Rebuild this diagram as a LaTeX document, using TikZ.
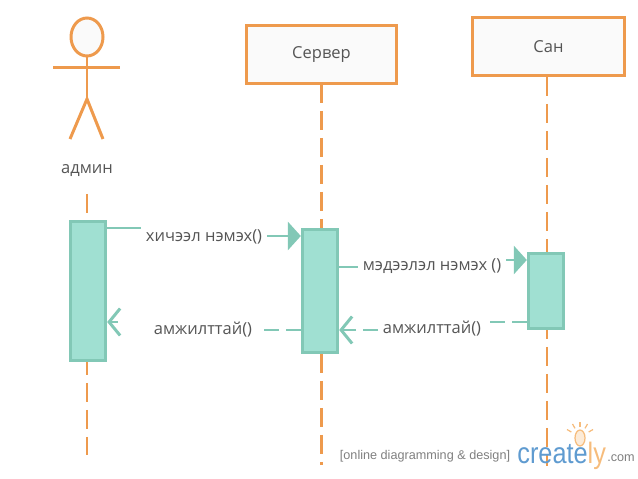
\documentclass[tikz,border=0pt]{standalone}
\usepackage{fontspec}
\setmainfont{Open Sans}
\newfontfamily\markfont{Liberation Sans}
\usetikzlibrary{arrows.meta}

\definecolor{lifeorange}{HTML}{EE9A4D}
\definecolor{barfill}{HTML}{A0E0D2}
\definecolor{barline}{HTML}{82C8B6}
\definecolor{boxfill}{HTML}{FAFAFA}
\definecolor{labelgray}{HTML}{555555}
\definecolor{markblue}{HTML}{5F9BD0}
\definecolor{markorange}{HTML}{F6BC7C}

\tikzset{
  lifebox/.style={draw=lifeorange,fill=boxfill,line width=1.7pt,minimum width=3cm,minimum height=1.16cm,
    text=labelgray,font=\fontsize{9.4}{11}\selectfont},
  lifeline/.style={draw=lifeorange,line width=1.6pt,dash pattern=on 0.38cm off 0.16cm},
  actorline/.style={draw=lifeorange,line width=1.7pt},
  actbar/.style={draw=barline,fill=barfill,line width=1.9pt,minimum width=0.7cm},
  msglabel/.style={text=labelgray,inner sep=0.09cm,font=\fontsize{9.4}{11}\selectfont},
  msgline/.style={draw=barline,line width=1.7pt},
  msgback/.style={msgline,dash pattern=on 0.3cm off 0.14cm},
  calltip/.style={-{Triangle[length=0.26cm,width=0.56cm]}},
  backtip/.style={-{Straight Barb[length=0.22cm,width=0.54cm]}}
}

\begin{document}
\begin{tikzpicture}[x=0.02cm,y=-0.02cm]
  \useasboundingbox (0,0) rectangle (638,479);

  % --- admin figure ---
  \draw[actorline,fill=boxfill] (87,37) ellipse (16 and 19);
  \draw[actorline] (87,56) -- (87,99);
  \draw[actorline] (53,67.5) -- (120,67.5);
  \draw[actorline] (70,139) -- (87,99) -- (103,139);
  \node[msglabel] (adminlabel) at (87,171) {админ};

  % --- lifelines ---
  \coordinate (adminstart) at (87,194);
  \coordinate (adminend) at (87,455);
  \coordinate (servertop) at (321.5,84);
  \coordinate (serverend) at (321.5,465);
  \coordinate (santop) at (547,77);
  \coordinate (sanend) at (547,466);
  \draw[lifeline] (adminstart) -- (adminend);
  \draw[lifeline] (servertop) -- (serverend);
  \draw[lifeline,line width=1.3pt] (santop) -- (sanend);

  % --- heads ---
  \node[lifebox] (serverbox) at (321.5,54.5) {Сервер};
  \node[lifebox,minimum width=3.04cm] (sanbox) at (548.5,46.5) {Сан};

  % --- activation bars ---
  \node[actbar,minimum height=2.78cm] (adminbar) at (88,291) {};
  \node[actbar,minimum height=2.46cm] (serverbar) at (320,291) {};
  \node[actbar,minimum height=1.5cm] (sanbar) at (546,291) {};

  % --- messages ---
  \node[msglabel] (addlesson) at (204,237) {хичээл нэмэх()};
  \coordinate (addstub) at (0,228);
  \coordinate (addtip) at (0,236);
  \draw[msgline] (adminbar.east |- addstub) -- (addlesson.west |- addstub);
  \draw[msgline,calltip] (addlesson.east |- addtip) -- (serverbar.west |- addtip);

  \node[msglabel] (adddata) at (432,266) {мэдээлэл нэмэх ()};
  \coordinate (datastub) at (0,267);
  \coordinate (datatip) at (0,260);
  \draw[msgline] (serverbar.east |- datastub) -- (adddata.west |- datastub);
  \draw[msgline,calltip] (adddata.east |- datatip) -- (sanbar.west |- datatip);

  \node[msglabel] (okserver) at (432,329) {амжилттай()};
  \coordinate (okserverstub) at (0,322);
  \coordinate (okservertip) at (0,330);
  \draw[msgback] (sanbar.west |- okserverstub) -- (okserver.east |- okserverstub);
  \draw[msgback,backtip] (okserver.west |- okservertip) -- (serverbar.east |- okservertip);

  \node[msglabel] (okadmin) at (203,330) {амжилттай()};
  \coordinate (okadminstub) at (0,330);
  \coordinate (okadmintip) at (0,322);
  \coordinate (okadmintail) at (118,322);
  \draw[msgback] (serverbar.west |- okadminstub) -- (okadmin.east |- okadminstub);
  \draw[msgline,backtip] (okadmintail) -- (adminbar.east |- okadmintip);

  % --- watermark ---
  \node[font=\markfont\fontsize{7.2}{9}\selectfont,text=gray,inner sep=0pt] (marktext) at (425,456) {[online diagramming \& design]};
  \node[font=\markfont\fontsize{16}{18}\selectfont,inner sep=0pt,anchor=base west] (markname) at (517,463) {\scalebox{0.9}[1.05]{\textcolor{markblue}{create}\textcolor{markorange}{ly}}};
  \node[font=\markfont\fontsize{7.2}{9}\selectfont,text=gray,inner sep=0pt,anchor=base west] (markcom) at (607,461) {.com};
  \draw[markorange,line width=0.7pt,fill=markorange!30] (580,438) ellipse (5 and 8);
  \foreach \ang in {-150,-120,-90,-60,-30}
    \draw[markorange,line width=0.7pt] (580,437) ++(\ang:10) -- ++(\ang:5);

\end{tikzpicture}
\end{document}
